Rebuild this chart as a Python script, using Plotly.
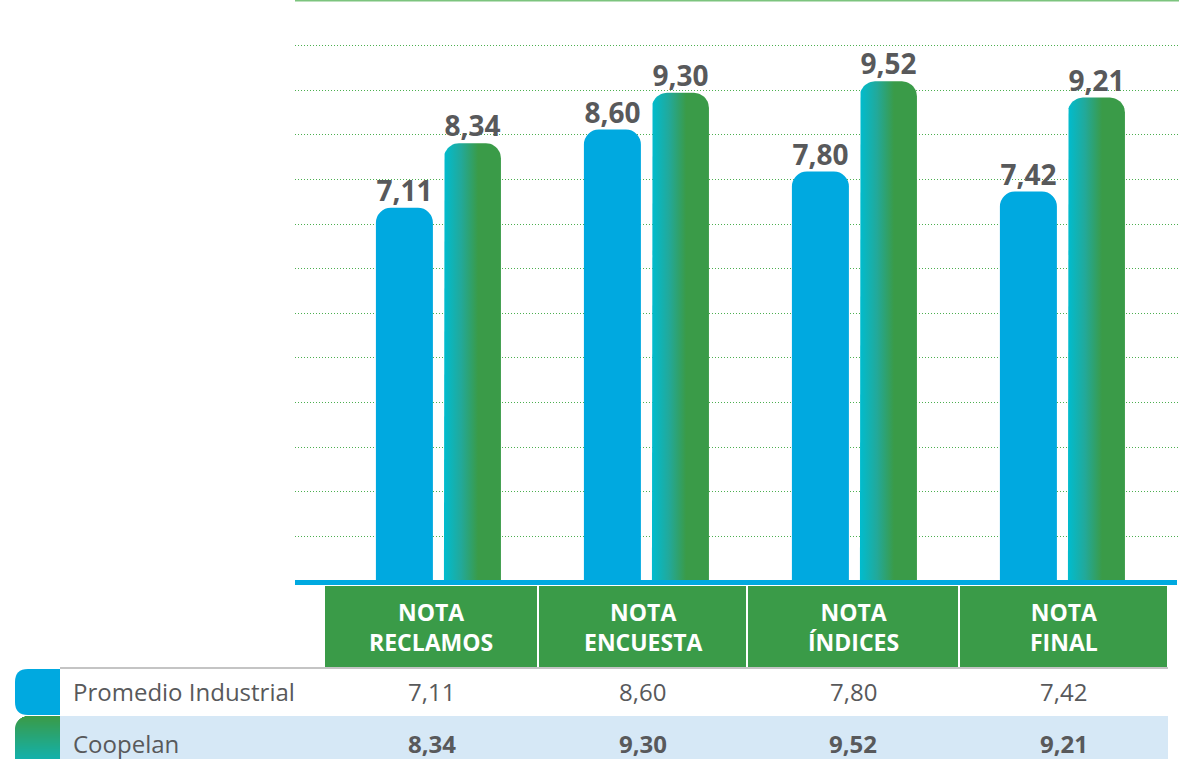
import numpy as np
import plotly.graph_objects as go

# ---------------- data ----------------
categories = ["NOTA<br>RECLAMOS", "NOTA<br>ENCUESTA", "NOTA<br>ÍNDICES", "NOTA<br>FINAL"]
series_names = ["Promedio Industrial", "Coopelan"]
promedio = [7.11, 8.60, 7.80, 7.42]
coopelan = [8.34, 9.30, 9.52, 9.21]


def fmt(v):
    return f"{v:.2f}".replace(".", ",")


# ---------------- layout constants ----------------
W, H = 1179, 759
L, T, B, RGT = 295, 1, 581, 1179       # plot area in pixels
XMIN, XMAX = -0.692, 3.558
YMAX = 11.05
XPX = (RGT - L) / (XMAX - XMIN)
YPX = (B - T) / YMAX

FONT = "Open Sans"
BLUE = "#00a9e0"
GREEN = "#3a9b48"
CYAN = "#00bccf"
GRAY_TXT = "#58595b"


def px2x(px):
    return (px - L) / (RGT - L)


def py2y(py):
    return (B - py) / (B - T)


fig = go.Figure()

idx = list(range(len(categories)))
BAR_W = 0.274
OFF_P = -0.303
OFF_C = 0.024
RAD = 15

# Promedio Industrial bars
fig.add_trace(go.Bar(
    x=idx, y=promedio, width=BAR_W, offset=OFF_P,
    marker=dict(color=BLUE, line=dict(width=0), cornerradius=RAD),
    name=series_names[0], hoverinfo="skip", showlegend=False,
))

# Coopelan bars: rounded-top polygons with horizontal gradient fill
rx, ry = RAD / XPX, RAD / YPX
for i, v in zip(idx, coopelan):
    left, right = i + OFF_C, i + OFF_C + BAR_W
    t1 = np.linspace(np.pi, np.pi / 2, 12)
    t2 = np.linspace(np.pi / 2, 0, 12)
    xs = [left] + list(left + rx + rx * np.cos(t1)) + list(right - rx + rx * np.cos(t2)) + [right, left]
    ys = [0] + list(v - ry + ry * np.sin(t1)) + list(v - ry + ry * np.sin(t2)) + [0, 0]
    fig.add_trace(go.Scatter(
        x=xs, y=ys, mode="lines", fill="toself", line=dict(width=0),
        fillgradient=dict(type="horizontal", start=left, stop=right,
                          colorscale=[[0, CYAN], [0.3, "#22a99a"], [0.6, GREEN], [1, GREEN]]),
        hoverinfo="skip", showlegend=False, name=series_names[1],
    ))

# value labels
for vals, off in ((promedio, OFF_P), (coopelan, OFF_C)):
    fig.add_trace(go.Scatter(
        x=[i + off + BAR_W / 2 for i in idx], y=vals, mode="text",
        text=[fmt(v) for v in vals], textposition="top center",
        textfont=dict(family=FONT, size=28, color=GRAY_TXT, weight=700),
        hoverinfo="skip", showlegend=False, cliponaxis=False,
    ))

shapes = []
annotations = []

# top solid green line
shapes.append(dict(type="line", xref="paper", yref="paper", x0=0, x1=1, y0=py2y(0.5), y1=py2y(0.5),
                   line=dict(color="#7cc47e", width=2)))
# blue baseline
shapes.append(dict(type="rect", xref="paper", yref="paper", x0=0, x1=px2x(1177),
                   y0=py2y(585), y1=py2y(580), fillcolor=BLUE, line=dict(width=0), layer="above"))

# header cells
edges = [325, 538, 747, 959, 1168]
for k, cat in enumerate(categories):
    x0, x1 = edges[k] + (1 if k else 0), edges[k + 1] - 1
    shapes.append(dict(type="rect", xref="paper", yref="paper", x0=px2x(x0), x1=px2x(x1),
                       y0=py2y(667), y1=py2y(586), fillcolor=GREEN, line=dict(width=0)))
    annotations.append(dict(xref="paper", yref="paper", x=px2x((x0 + x1) / 2), y=py2y(627),
                            text=cat, showarrow=False, xanchor="center", yanchor="middle",
                            font=dict(family=FONT, size=23, color="white", weight=700)))

# table rows
shapes.append(dict(type="rect", xref="paper", yref="paper", x0=px2x(60), x1=px2x(1168),
                   y0=py2y(762), y1=py2y(716), fillcolor="#d6e8f6", line=dict(width=0)))
shapes.append(dict(type="line", xref="paper", yref="paper", x0=px2x(60), x1=px2x(1168),
                   y0=py2y(668), y1=py2y(668), line=dict(color="#c4c4c4", width=2)))

# legend block: blue, rounded left corners
r = 13
bx0, bx1, by0, by1 = 15, 60, 669, 715
path = (f"M {px2x(bx1)} {py2y(by0)} L {px2x(bx0 + r)} {py2y(by0)} "
        f"Q {px2x(bx0)} {py2y(by0)} {px2x(bx0)} {py2y(by0 + r)} "
        f"L {px2x(bx0)} {py2y(by1 - r)} Q {px2x(bx0)} {py2y(by1)} {px2x(bx0 + r)} {py2y(by1)} "
        f"L {px2x(bx1)} {py2y(by1)} Z")
shapes.append(dict(type="path", xref="paper", yref="paper", path=path, fillcolor=BLUE, line=dict(width=0)))

# legend block: green->teal vertical gradient, rounded top-left corner
g0 = np.array([0x3a, 0x9b, 0x48])
g1 = np.array([0x12, 0xb2, 0xaf])
gy0, gy1 = 716, 760
for py in range(gy0, gy1):
    f = (py - gy0) / (gy1 - gy0)
    c = (g0 * (1 - f) + g1 * f).astype(int)
    d = py - gy0 + 0.5
    xl = bx0 + (r - np.sqrt(max(r * r - (r - d) ** 2, 0)) if d < r else 0)
    shapes.append(dict(type="rect", xref="paper", yref="paper", x0=px2x(xl), x1=px2x(bx1),
                       y0=py2y(py + 1.05), y1=py2y(py), fillcolor=f"rgb({c[0]},{c[1]},{c[2]})",
                       line=dict(width=0)))

# row labels and values
centers = [(edges[k] + edges[k + 1]) / 2 for k in range(len(categories))]
for name, vals, ycen, wt in ((series_names[0], promedio, 691, 400), (series_names[1], coopelan, 743, 700)):
    annotations.append(dict(xref="paper", yref="paper", x=px2x(71), y=py2y(ycen), text=name,
                            showarrow=False, xanchor="left", yanchor="middle",
                            font=dict(family=FONT, size=24, color=GRAY_TXT)))
    for cx, v in zip(centers, vals):
        annotations.append(dict(xref="paper", yref="paper", x=px2x(cx), y=py2y(ycen), text=fmt(v),
                                showarrow=False, xanchor="center", yanchor="middle",
                                font=dict(family=FONT, size=24, color=GRAY_TXT, weight=wt)))

fig.update_layout(
    width=W, height=H,
    margin=dict(l=L, r=W - RGT, t=T, b=H - B),
    paper_bgcolor="white", plot_bgcolor="white",
    showlegend=False,
    xaxis=dict(range=[XMIN, XMAX], showgrid=False, zeroline=False, showticklabels=False,
               ticks="", showline=False, fixedrange=True),
    yaxis=dict(range=[0, YMAX], dtick=YMAX / 13, tick0=0, showgrid=True,
               gridcolor="#4caf50", griddash="1px,2px", gridwidth=1,
               zeroline=False, showticklabels=False, ticks="", showline=False, fixedrange=True),
    shapes=shapes, annotations=annotations,
)

fig.write_html(
    "out.html",
    config={"displayModeBar": False},
    post_script="document.body.style.margin='0';document.body.style.overflow='hidden';",
)
